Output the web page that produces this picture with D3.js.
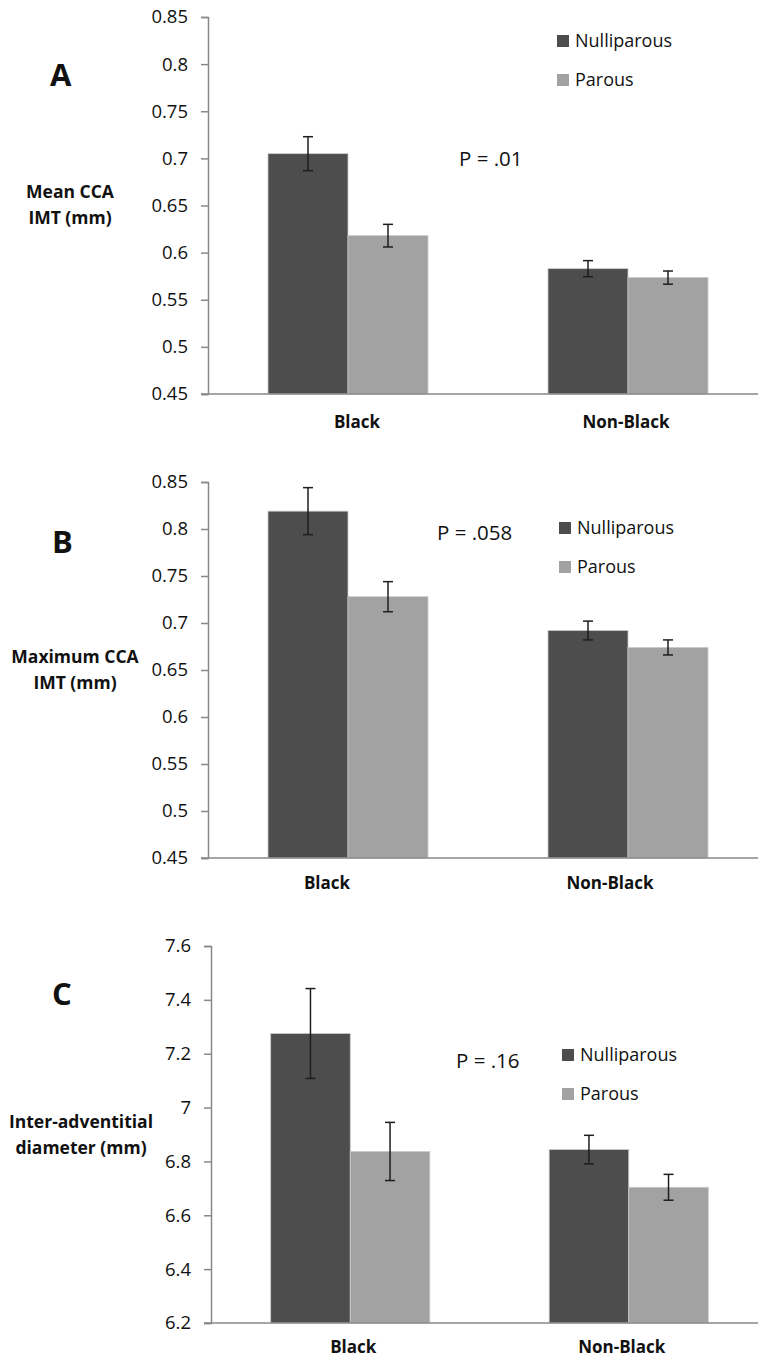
<!DOCTYPE html>
<html lang="en">
<head>
<meta charset="utf-8">
<style>
  body { margin: 0; background: #fff; }
  svg text { font-family: "Open Sans", "DejaVu Sans", sans-serif; fill: #111; }
</style>
</head>
<body>
<div id="chart"></div>
<script src="https://d3js.org/d3.v7.min.js"></script>
<script>
// data
var groups = ["Black", "Non-Black"];
var series = ["Nulliparous", "Parous"];

var meanNulli = [0.705, 0.583],  meanNulliErr = [0.018, 0.0085];
var meanParous = [0.618, 0.5735], meanParousErr = [0.012, 0.007];

var maxNulli = [0.819, 0.692],   maxNulliErr = [0.025, 0.010];
var maxParous = [0.728, 0.674],  maxParousErr = [0.016, 0.008];

var diamNulli = [7.275, 6.844],  diamNulliErr = [0.167, 0.053];
var diamParous = [6.837, 6.704], diamParousErr = [0.108, 0.048];

var panelLetters = ["A", "B", "C"];
var pLabels = ["P = .01", "P = .058", "P = .16"];
var yTitles = [["Mean CCA", "IMT (mm)"], ["Maximum CCA", "IMT (mm)"], ["Inter-adventitial", "diameter (mm)"]];
var yDomains = [[0.45, 0.85], [0.45, 0.85], [6.2, 7.6]];
var yTickSteps = [0.05, 0.05, 0.2];

var colors = { Nulliparous: "#4d4d4d", Parous: "#a2a2a2" };

var width = 758, height = 1359;
var svg = d3.select("#chart").append("svg")
    .attr("width", width)
    .attr("height", height);

// layout of each panel (pixels)
var layout = [
  { top: 17,  bottom: 394,  left: 208, letter: [50, 86],   title: [70, 198], p: [459, 166],  legend: [557, 35],   xlab: [9, -2],    xlabY: 34 },
  { top: 482, bottom: 858,  left: 208, letter: [52, 553],  title: [75, 663], p: [437, 540],  legend: [559, 522],  xlab: [-21, -18], xlabY: 31 },
  { top: 946, bottom: 1323, left: 211, letter: [52, 1005], title: [81, 1128], p: [456, 1068], legend: [562, 1049], xlab: [3, -7],    xlabY: 30 }
];
var right = 768;

var panels = [
  { vals: [meanNulli, meanParous], errs: [meanNulliErr, meanParousErr] },
  { vals: [maxNulli, maxParous],   errs: [maxNulliErr, maxParousErr] },
  { vals: [diamNulli, diamParous], errs: [diamNulliErr, diamParousErr] }
];

panels.forEach(function(pn, i) {
  var L = layout[i];
  var g = svg.append("g");

  var x = d3.scaleBand().domain(groups).range([L.left, right])
      .paddingInner(3 / 7).paddingOuter(1.5 / 7);
  var xs = d3.scaleBand().domain(series).range([0, x.bandwidth()]);
  var y = d3.scaleLinear().domain(yDomains[i]).range([L.bottom, L.top]);

  var ticks = d3.range(yDomains[i][0], yDomains[i][1] + yTickSteps[i] / 2, yTickSteps[i]);

  // bars
  var rows = [];
  series.forEach(function(s, si) {
    groups.forEach(function(gr, gi) {
      rows.push({ s: s, g: gr, v: pn.vals[si][gi], e: pn.errs[si][gi] });
    });
  });

  g.selectAll("rect.bar").data(rows).enter().append("rect")
    .attr("class", "bar")
    .attr("x", function(d) { return x(d.g) + xs(d.s); })
    .attr("width", xs.bandwidth())
    .attr("y", function(d) { return y(d.v); })
    .attr("height", function(d) { return y(yDomains[i][0]) - y(d.v); })
    .attr("fill", function(d) { return colors[d.s]; })
    .attr("stroke", "#c9c9c9")
    .attr("stroke-width", 0.8);

  // error bars
  var eb = g.selectAll("g.err").data(rows).enter().append("g")
    .attr("class", "err")
    .attr("stroke", "#1e1e1e")
    .attr("stroke-width", 1.5);
  var cx = function(d) { return x(d.g) + xs(d.s) + xs.bandwidth() / 2; };
  eb.append("line")
    .attr("x1", cx).attr("x2", cx)
    .attr("y1", function(d) { return y(d.v + d.e); })
    .attr("y2", function(d) { return y(d.v - d.e); });
  [1, -1].forEach(function(sign) {
    eb.append("line")
      .attr("x1", function(d) { return cx(d) - 5; })
      .attr("x2", function(d) { return cx(d) + 5; })
      .attr("y1", function(d) { return y(d.v + sign * d.e); })
      .attr("y2", function(d) { return y(d.v + sign * d.e); });
  });

  // y axis
  var yAxis = d3.axisLeft(y).tickValues(ticks).tickSize(7).tickPadding(13)
      .tickFormat(function(d) { return +d.toFixed(2); });
  var ya = g.append("g").attr("transform", "translate(" + L.left + ",0)").call(yAxis);
  ya.select(".domain").attr("stroke", "#888").attr("stroke-width", 1.5);
  ya.selectAll(".tick line").attr("stroke", "#888").attr("stroke-width", 1.5);
  ya.selectAll(".tick text").style("font-size", "18.5px").attr("fill", "#111")
    .style("font-family", "'Open Sans', sans-serif");

  // x axis line
  var xAxis = d3.axisBottom(x).tickSize(0).tickFormat("");
  var xa = g.append("g").attr("transform", "translate(0," + L.bottom + ")").call(xAxis);
  xa.select(".domain").attr("stroke", "#888").attr("stroke-width", 1.5)
    .attr("d", "M" + (L.left - 7) + ",0H" + right);

  // category labels
  g.selectAll("text.cat").data(groups).enter().append("text")
    .attr("class", "cat")
    .attr("x", function(d, gi) { return x(d) + x.bandwidth() / 2 + L.xlab[gi]; })
    .attr("y", L.bottom + L.xlabY)
    .attr("text-anchor", "middle")
    .style("font-size", "17px").style("font-weight", "bold")
    .text(function(d) { return d; });

  // panel letter
  g.append("text")
    .attr("x", L.letter[0]).attr("y", L.letter[1])
    .style("font-size", "31px").style("font-weight", "bold")
    .text(panelLetters[i]);

  // y title
  g.selectAll("text.ytitle").data(yTitles[i]).enter().append("text")
    .attr("class", "ytitle")
    .attr("x", L.title[0])
    .attr("y", function(d, k) { return L.title[1] + k * 26; })
    .attr("text-anchor", "middle")
    .style("font-size", "17.5px").style("font-weight", "bold")
    .text(function(d) { return d; });

  // p value
  g.append("text")
    .attr("x", L.p[0]).attr("y", L.p[1])
    .style("font-size", "20.5px")
    .text(pLabels[i]);

  // legend
  var lg = g.selectAll("g.leg").data(series).enter().append("g")
    .attr("class", "leg")
    .attr("transform", function(d, k) { return "translate(" + L.legend[0] + "," + (L.legend[1] + k * 39) + ")"; });
  lg.append("rect").attr("width", 12).attr("height", 12)
    .attr("fill", function(d) { return colors[d]; });
  lg.append("text").attr("x", 18).attr("y", 12)
    .style("font-size", "18px")
    .text(function(d) { return d; });
});
</script>
</body>
</html>
